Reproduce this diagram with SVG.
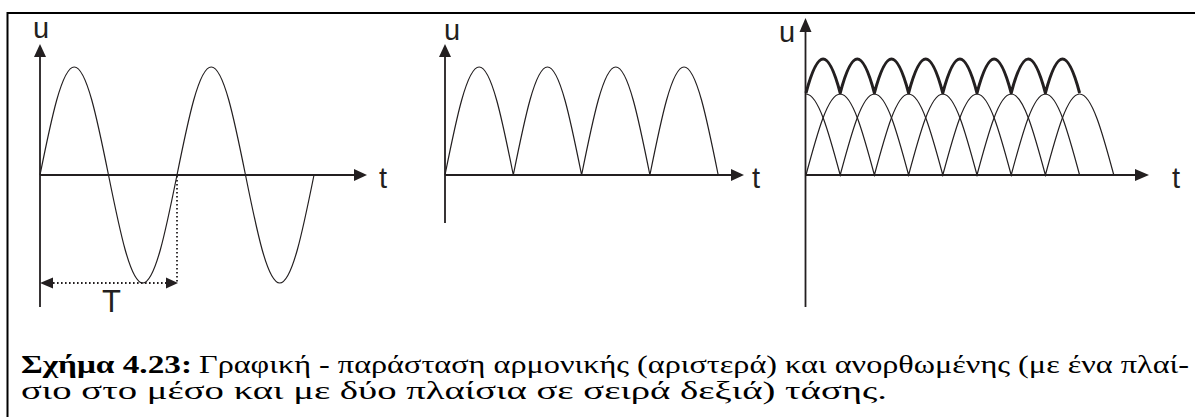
<svg xmlns="http://www.w3.org/2000/svg" width="1195" height="417" viewBox="0 0 1195 417">
<style>
.ax{stroke:#231f20;stroke-width:1.8;fill:none}
.ah{fill:#231f20;stroke:none}
.wave{stroke:#231f20;stroke-width:1.2;fill:none}
.thick{stroke:#231f20;stroke-width:3;fill:none;stroke-linejoin:round}
.dot{stroke:#231f20;stroke-width:1.8;fill:none;stroke-dasharray:1.6 2.4}
.lbl{font-family:"Liberation Sans",Arial,sans-serif;font-size:29px;fill:#231f20}
</style>
<rect width="1195" height="417" fill="#fff"/>
<g id="frame">
<path d="M7.5,417 V13 H1195" stroke="#000" stroke-width="2" fill="none"/>
</g>
<g id="panel-left">
<path class="ax" d="M40,307 V55 M40,175 H356"/>
<polygon class="ah" points="40,44 34,57 46,57"/>
<polygon class="ah" points="367,175 354,169 354,181"/>
<path class="wave" d="M40,175 c11.17,-55.33 21.85,-108 34.25,-108 c12.4,0 23.08,52.67 34.25,108 c11.17,55.33 21.85,108 34.25,108 c12.4,0 23.08,-52.67 34.25,-108 c11.17,-55.33 21.85,-108 34.25,-108 c12.4,0 23.08,52.67 34.25,108 c11.17,55.33 21.85,108 34.25,108 c12.4,0 23.08,-52.67 34.25,-108"/>
<path class="dot" d="M177,176 V283 M53,283 H166"/>
<polygon class="ah" points="40,283 53,277.5 53,288.5"/>
<polygon class="ah" points="178,283 166,277.5 166,288.5"/>
<text class="lbl" x="33" y="38">u</text>
<text class="lbl" x="379" y="188">t</text>
<text class="lbl" x="102" y="312" style="font-size:31px">T</text>
</g>
<g id="panel-middle">
<path class="ax" d="M445,223 V55 M445,175 H733"/>
<polygon class="ah" points="445,44 439,57 451,57"/>
<polygon class="ah" points="744,175 731,169 731,181"/>
<path class="wave" d="M445,175 c11.14,-55.33 21.79,-108 34.15,-108 c12.36,0 23.01,52.67 34.15,108 c11.14,-55.33 21.79,-108 34.15,-108 c12.36,0 23.01,52.67 34.15,108 c11.14,-55.33 21.79,-108 34.15,-108 c12.36,0 23.01,52.67 34.15,108 c11.14,-55.33 21.79,-108 34.15,-108 c12.36,0 23.01,52.67 34.15,108"/>
<text class="lbl" x="444" y="40">u</text>
<text class="lbl" x="752" y="188">t</text>
</g>
<g id="panel-right">
<path class="ax" d="M805.5,307 V30 M805.5,175 H1137"/>
<polygon class="ah" points="805.5,18 799.5,32 811.5,32"/>
<polygon class="ah" points="1149,175 1135,169 1135,181"/>
<path class="wave" d="M806,175 c11.15,-41.5 21.82,-81 34.2,-81 c12.38,0 23.05,39.5 34.2,81 c11.15,-41.5 21.82,-81 34.2,-81 c12.38,0 23.05,39.5 34.2,81 c11.15,-41.5 21.82,-81 34.2,-81 c12.38,0 23.05,39.5 34.2,81 c11.15,-41.5 21.82,-81 34.2,-81 c12.38,0 23.05,39.5 34.2,81"/>
<path class="wave" d="M806,94 c12.38,0 23.05,39.5 34.2,81 c11.15,-41.5 21.82,-81 34.2,-81 c12.38,0 23.05,39.5 34.2,81 c11.15,-41.5 21.82,-81 34.2,-81 c12.38,0 23.05,39.5 34.2,81 c11.15,-41.5 21.82,-81 34.2,-81 c12.38,0 23.05,39.5 34.2,81 c11.15,-41.5 21.82,-81 34.2,-81 c12.38,0 23.05,39.5 34.2,81"/>
<path class="thick" d="M806,93 c5.7,-21.5 11.4,-34 17.1,-34 c5.7,0 11.4,12.5 17.1,34 c5.7,-21.5 11.4,-34 17.1,-34 c5.7,0 11.4,12.5 17.1,34 c5.7,-21.5 11.4,-34 17.1,-34 c5.7,0 11.4,12.5 17.1,34 c5.7,-21.5 11.4,-34 17.1,-34 c5.7,0 11.4,12.5 17.1,34 c5.7,-21.5 11.4,-34 17.1,-34 c5.7,0 11.4,12.5 17.1,34 c5.7,-21.5 11.4,-34 17.1,-34 c5.7,0 11.4,12.5 17.1,34 c5.7,-21.5 11.4,-34 17.1,-34 c5.7,0 11.4,12.5 17.1,34 c5.7,-21.5 11.4,-34 17.1,-34 c5.7,0 11.4,12.5 17.1,34"/>
<text class="lbl" x="779" y="42">u</text>
<text class="lbl" x="1172" y="188">t</text>
</g>
<g id="caption" font-family="'Liberation Serif', 'DejaVu Serif', serif" font-size="26" fill="#000">
<text x="21" y="373" font-weight="bold" textLength="171" lengthAdjust="spacingAndGlyphs">Σχήμα 4.23:</text>
<text x="199" y="373" textLength="990" lengthAdjust="spacingAndGlyphs">Γραφική - παράσταση αρμονικής (αριστερά) και ανορθωμένης (με ένα πλαί-</text>
<text x="21" y="399" textLength="866" lengthAdjust="spacingAndGlyphs">σιο στο μέσο και με δύο πλαίσια σε σειρά δεξιά) τάσης.</text>
</g>
</svg>
